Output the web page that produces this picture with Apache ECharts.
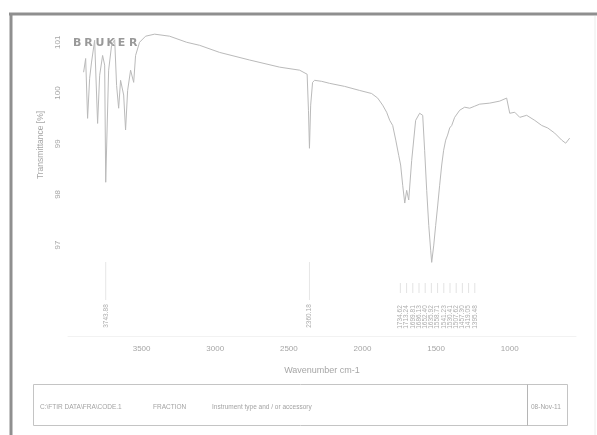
<!DOCTYPE html>
<html>
<head>
<meta charset="utf-8">
<script src="https://cdn.jsdelivr.net/npm/echarts@6/dist/echarts.min.js"></script>
<style>
  html, body { margin: 0; padding: 0; background: #ffffff; }
  #chart { width: 597px; height: 435px; }
</style>
</head>
<body>
<div id="chart"></div>
<script>
// FTIR transmittance spectrum (Bruker OPUS style printout)
const wavenumbers = [
  3894, 3880, 3867, 3853, 3840, 3819, 3799, 3785, 3765, 3751, 3743.88, 3724, 3704, 3683,
  3670, 3656, 3643, 3622, 3609, 3595, 3575, 3554, 3541, 3514, 3473, 3412, 3310, 3194,
  3106, 2970, 2766, 2563, 2427, 2376, 2367, 2360.18, 2352, 2339, 2325, 2277, 2223, 2121,
  2019, 1938, 1897, 1863, 1836, 1815, 1795, 1774, 1754, 1741, 1727, 1713, 1700, 1686,
  1666, 1639, 1612, 1591, 1578, 1564, 1550, 1537, 1530, 1516, 1503, 1489, 1476, 1462,
  1449, 1435, 1422, 1408, 1394, 1374, 1340, 1306, 1272, 1238, 1204, 1136, 1068, 1021,
  1000, 966, 932, 885, 830, 783, 742, 695, 647, 620, 593
];
const transmittance = [
  100.41, 100.68, 99.50, 100.29, 100.61, 101.04, 99.40, 100.35, 100.74, 100.55, 98.24, 100.45, 100.94, 101.05,
  100.15, 99.70, 100.25, 99.96, 99.27, 100.05, 100.45, 100.21, 100.74, 101.00, 101.12, 101.16, 101.12, 101.00,
  100.94, 100.80, 100.65, 100.51, 100.45, 100.37, 99.66, 98.91, 99.76, 100.21, 100.25, 100.23, 100.19, 100.13,
  100.05, 99.99, 99.90, 99.76, 99.62, 99.46, 99.36, 99.07, 98.77, 98.58, 98.18, 97.83, 98.08, 97.89,
  98.67, 99.46, 99.60, 99.56, 98.87, 98.08, 97.39, 96.90, 96.66, 97.00, 97.39, 97.79, 98.18, 98.58,
  98.87, 99.07, 99.17, 99.31, 99.36, 99.52, 99.66, 99.72, 99.70, 99.74, 99.78, 99.80, 99.84, 99.90,
  99.60, 99.62, 99.52, 99.56, 99.46, 99.36, 99.31, 99.21, 99.07, 99.01, 99.11
];

// Peak picks: isolated bands and the crowded fingerprint group
const isolatedPeaks = [3743.88, 2360.18];
const clusterPeaks = [1734.62, 1713.24, 1699.81, 1686.13, 1652.40, 1635.92, 1558.71,
                      1541.23, 1530.41, 1507.62, 1457.30, 1419.05, 1395.48];

const xTicks = [3500, 3000, 2500, 2000, 1500, 1000];
const yTicks = [97, 98, 99, 100, 101];

const ink = '#a6a6a6';
const font = 'Liberation Sans';

const chart = echarts.init(document.getElementById('chart'), null, { renderer: 'canvas' });

function peakLabel(x, y, txt) {
  return {
    type: 'text', x: x, y: y, rotation: Math.PI / 2,
    style: {
      text: txt, fontSize: 6.5, fontFamily: font, fill: '#adadad',
      textAlign: 'center', textVerticalAlign: 'middle', align: 'center', verticalAlign: 'middle'
    }
  };
}

const letters = 'BRUKER'.split('');
const logo = letters.map((ch, i) => ({
  type: 'text', left: 73 + i * 11.2, top: 38,
  style: { text: ch, fontSize: 11, fontWeight: 'bold', fontFamily: 'DejaVu Sans', fill: '#999999' }
}));

const option = {
  backgroundColor: '#ffffff',
  animation: false,
  grid: { left: 68, right: 21, top: 22, bottom: 98.6 },
  xAxis: {
    type: 'value', inverse: true, min: 550, max: 4000,
    name: 'Wavenumber cm-1', nameLocation: 'middle', nameGap: 30,
    nameTextStyle: { color: ink, fontSize: 9, fontFamily: font },
    axisLine: { show: true, lineStyle: { color: '#f2f2f2', width: 1 } },
    axisTick: { show: false },
    splitLine: { show: false },
    axisLabel: {
      customValues: xTicks, color: ink, fontSize: 8, fontFamily: font, margin: 8,
      formatter: v => String(v)
    }
  },
  yAxis: {
    type: 'value', min: 95.2, max: 101.4,
    axisLine: { show: false }, axisTick: { show: false }, splitLine: { show: false },
    axisLabel: {
      customValues: yTicks, rotate: 90, color: ink, fontSize: 8, fontFamily: font, margin: 6,
      formatter: v => String(v)
    }
  },
  series: [
    {
      type: 'line', showSymbol: false, smooth: false,
      lineStyle: { color: '#bababa', width: 1 },
      data: wavenumbers.map((w, i) => [w, transmittance[i]])
    },
    {
      type: 'custom', encode: { x: 0 },
      data: isolatedPeaks.map(v => [v]),
      renderItem: function (params, api) {
        const x = api.coord([api.value(0), 97])[0];
        return {
          type: 'group',
          children: [
            { type: 'line', shape: { x1: x, y1: 262, x2: x, y2: 300 }, style: { stroke: '#e6e6e6', lineWidth: 1 } },
            peakLabel(x, 316, api.value(0).toFixed(2))
          ]
        };
      }
    },
    {
      type: 'custom', encode: { x: 0 },
      data: clusterPeaks.map(v => [v]),
      renderItem: function (params, api) {
        const n = clusterPeaks.length;
        const pitch = 6.2;
        const cx = api.coord([1490, 97])[0];
        const lx = cx + (params.dataIndex - (n - 1) / 2) * pitch;
        return {
          type: 'group',
          children: [
            { type: 'line', shape: { x1: lx, y1: 283, x2: lx, y2: 293 }, style: { stroke: '#dcdcdc', lineWidth: 0.8 } },
            peakLabel(lx, 317, api.value(0).toFixed(2))
          ]
        };
      }
    }
  ],
  graphic: [
    // page frame
    { type: 'line', shape: { x1: 9, y1: 14, x2: 597, y2: 14 }, style: { stroke: '#8f8f8f', lineWidth: 3 } },
    { type: 'line', shape: { x1: 11, y1: 13, x2: 11, y2: 435 }, style: { stroke: '#8f8f8f', lineWidth: 3 } },
    { type: 'line', shape: { x1: 595, y1: 16, x2: 595, y2: 435 }, style: { stroke: '#ececec', lineWidth: 1 } },
    // y axis title
    {
      type: 'text', x: 41, y: 145, rotation: Math.PI / 2,
      style: {
        text: 'Transmittance [%]', fontSize: 8.5, fontFamily: font, fill: ink,
        textAlign: 'center', textVerticalAlign: 'middle', align: 'center', verticalAlign: 'middle'
      }
    },
    // info box
    { type: 'rect', shape: { x: 33.5, y: 384.5, width: 534, height: 41 }, style: { fill: 'none', stroke: '#c4c4c4', lineWidth: 1 } },
    { type: 'line', shape: { x1: 527.5, y1: 384.5, x2: 527.5, y2: 425.5 }, style: { stroke: '#b5b5b5', lineWidth: 1 } },
    { type: 'text', left: 40, top: 404, style: { text: 'C:\\FTIR DATA\\FRA\\CODE.1', fontSize: 6.5, fontFamily: font, fill: '#a3a3a3' } },
    { type: 'text', left: 153, top: 404, style: { text: 'FRACTION', fontSize: 6.5, fontFamily: font, fill: '#a3a3a3' } },
    { type: 'text', left: 212, top: 404, style: { text: 'Instrument type and / or accessory', fontSize: 6.5, fontFamily: font, fill: '#a3a3a3' } },
    { type: 'text', left: 531, top: 404, style: { text: '08-Nov-11', fontSize: 6.5, fontFamily: font, fill: '#a3a3a3' } }
  ].concat(logo)
};

chart.setOption(option);
</script>
</body>
</html>
